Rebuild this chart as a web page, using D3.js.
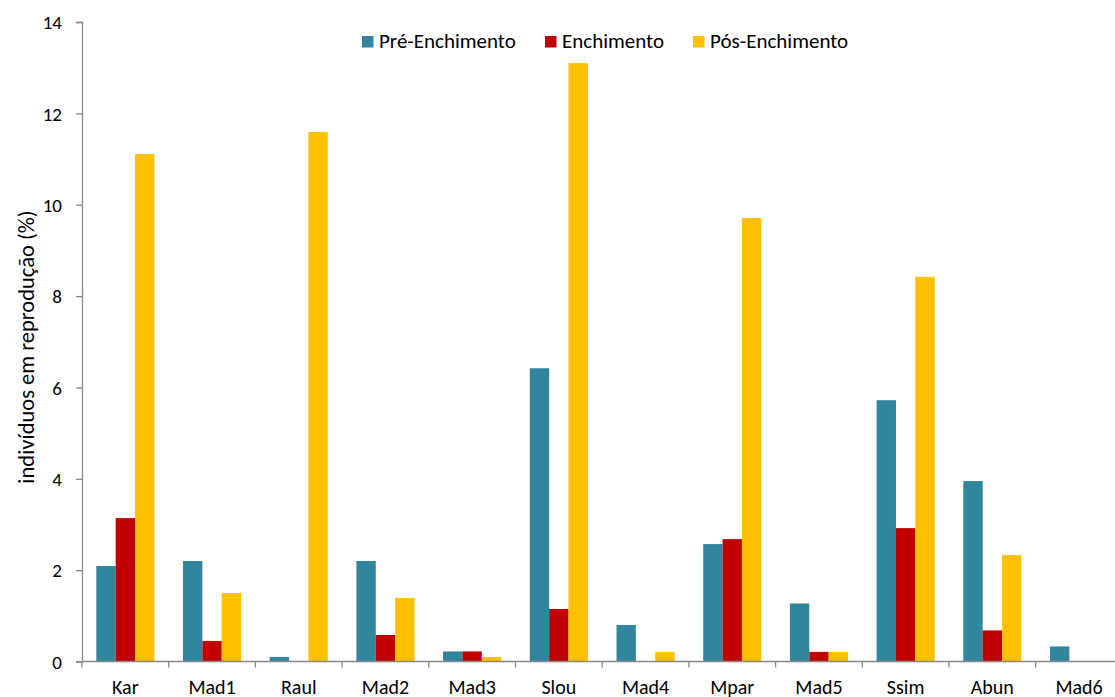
<!DOCTYPE html>
<html>
<head>
<meta charset="utf-8">
<script src="https://cdn.jsdelivr.net/npm/d3@7"></script>
<style>
  html, body { margin: 0; padding: 0; background: #fff; }
  svg { display: block; }
  text { font-family: Carlito, Lato, "Noto Sans", sans-serif; fill: #000; }
</style>
</head>
<body>
<svg id="chart" width="1115" height="697"></svg>
<script>
// Sites sampled
const categories = ["Kar", "Mad1", "Raul", "Mad2", "Mad3", "Slou", "Mad4", "Mpar", "Mad5", "Ssim", "Abun", "Mad6"];

// Percentage of individuals in reproduction, per filling phase
const preEnchimento = [2.09, 2.20, 0.10, 2.20, 0.22, 6.42, 0.80, 2.57, 1.27, 5.72, 3.95, 0.33];
const enchimento    = [3.14, 0.45, 0.00, 0.58, 0.22, 1.15, 0.00, 2.68, 0.21, 2.92, 0.68, 0.00];
const posEnchimento = [11.11, 1.50, 11.59, 1.39, 0.10, 13.10, 0.21, 9.71, 0.21, 8.42, 2.33, 0.00];

const seriesNames = ["Pré-Enchimento", "Enchimento", "Pós-Enchimento"];
const seriesColors = ["#31859C", "#C00000", "#FFC000"];
const yTicks = [0, 2, 4, 6, 8, 10, 12, 14];
const yLabel = "indivíduos em reprodução (%)";

const series = [preEnchimento, enchimento, posEnchimento];

const svg = d3.select("#chart");
const plotLeft = 82, plotTop = 22, plotBottom = 661.5;
const catWidth = 86.7;
const plotRight = plotLeft + catWidth * categories.length;

const x = d3.scaleBand().domain(categories).range([plotLeft, plotRight]).paddingInner(0.33).paddingOuter(0.165);
const xs = d3.scaleBand().domain(seriesNames).range([0, x.bandwidth()]);
const y = d3.scaleLinear().domain([0, 14]).range([plotBottom, plotTop]);

const axisColor = "#868686";

// Bars
const groups = svg.append("g").selectAll("g")
  .data(categories)
  .join("g")
  .attr("transform", d => `translate(${x(d)},0)`);

groups.selectAll("rect")
  .data((d, i) => seriesNames.map((s, j) => ({ s, v: series[j][i], c: seriesColors[j] })))
  .join("rect")
  .attr("x", d => xs(d.s))
  .attr("width", xs.bandwidth())
  .attr("y", d => y(d.v))
  .attr("height", d => y(0) - y(d.v))
  .attr("fill", d => d.c);

// Y axis
const yAxis = svg.append("g")
  .attr("transform", `translate(${plotLeft},0)`)
  .call(d3.axisLeft(y).tickValues(yTicks).tickSize(6).tickPadding(14).tickFormat(d3.format("d")));
yAxis.select(".domain").attr("stroke", axisColor).attr("stroke-width", 1.3);
yAxis.selectAll(".tick line").attr("stroke", axisColor).attr("stroke-width", 1.3);
yAxis.selectAll(".tick text").attr("font-size", 19).attr("font-family", null).attr("dy", "0.35em");

// X axis with ticks at category boundaries
const xAxisG = svg.append("g").attr("transform", `translate(0,${plotBottom})`);
xAxisG.append("line")
  .attr("x1", plotLeft).attr("x2", plotRight)
  .attr("stroke", axisColor).attr("stroke-width", 1.3);
const boundaries = d3.range(categories.length + 1).map(i => plotLeft + i * catWidth);
xAxisG.selectAll("line.tk")
  .data(boundaries)
  .join("line")
  .attr("class", "tk")
  .attr("x1", d => d).attr("x2", d => d)
  .attr("y1", 0).attr("y2", 6)
  .attr("stroke", axisColor).attr("stroke-width", 1.3);
xAxisG.selectAll("text")
  .data(categories)
  .join("text")
  .attr("x", d => x(d) + x.bandwidth() / 2)
  .attr("y", 32)
  .attr("text-anchor", "middle")
  .attr("font-size", 20)
  .text(d => d);

// Y axis title
svg.append("text")
  .attr("transform", `translate(34,347) rotate(-90)`)
  .attr("text-anchor", "middle")
  .attr("font-size", 22.5)
  .text(yLabel);

// Legend
const legendX = [362, 545, 693];
const legend = svg.append("g").selectAll("g")
  .data(seriesNames)
  .join("g")
  .attr("transform", (d, i) => `translate(${legendX[i]},36)`);
legend.append("rect").attr("width", 11.5).attr("height", 11.5).attr("fill", (d, i) => seriesColors[i]);
legend.append("text").attr("x", 17).attr("y", 11.5).attr("font-size", 21).text(d => d);
</script>
</body>
</html>
